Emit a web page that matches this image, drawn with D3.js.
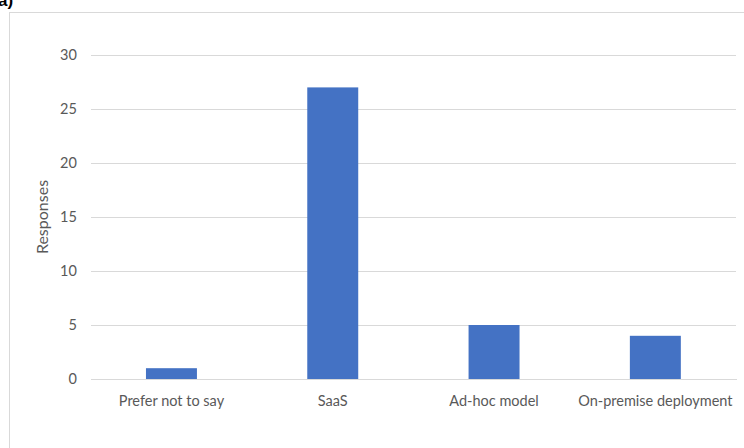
<!DOCTYPE html>
<html>
<head>
<meta charset="utf-8">
<script src="https://cdn.jsdelivr.net/npm/d3@7"></script>
<style>
  html, body { margin: 0; padding: 0; background: #fff; }
  svg { display: block; font-family: Lato, "Open Sans", sans-serif; }
</style>
</head>
<body>
<svg id="chart" width="744" height="448"></svg>
<script>
// Survey responses by delivery model
const categories = ["Prefer not to say", "SaaS", "Ad-hoc model", "On-premise deployment"];
const responses = [1, 27, 5, 4];
const yTicks = [0, 5, 10, 15, 20, 25, 30];
const yTitle = "Responses";
const panelLabel = "a)";

const W = 744, H = 448;
const margin = { left: 90.8, right: 8, top: 55, bottom: 69 };
const labelSize = 14.5;
const svg = d3.select("#chart");

// chart frame
svg.append("rect")
  .attr("x", 9.5).attr("y", 12.5)
  .attr("width", W + 10).attr("height", H + 10)
  .attr("fill", "#fff").attr("stroke", "#d9d9d9");

// panel label, running off the top edge
svg.append("text")
  .attr("x", -2).attr("y", 6)
  .attr("font-family", "Liberation Sans, Arial, sans-serif")
  .attr("font-weight", "bold").attr("font-size", 17)
  .attr("fill", "#000")
  .text(panelLabel);

const x = d3.scaleBand()
  .domain(categories)
  .range([margin.left, W - margin.right])
  .paddingInner(0.684)
  .paddingOuter(0.342);

const y = d3.scaleLinear()
  .domain([0, 30])
  .range([H - margin.bottom, margin.top]);

// gridlines + tick labels
const yAxis = d3.axisLeft(y)
  .tickValues(yTicks)
  .tickSize(-(W - margin.right - margin.left))
  .tickPadding(14);

const gy = svg.append("g")
  .attr("transform", `translate(${margin.left},0)`)
  .call(yAxis);
gy.select(".domain").remove();
gy.selectAll(".tick line").attr("stroke", "#d9d9d9").attr("shape-rendering", "crispEdges");
gy.selectAll(".tick text")
  .attr("fill", "#595959")
  .attr("font-size", labelSize)
  .attr("font-family", "Lato, sans-serif");

// bars
svg.append("g").selectAll("rect")
  .data(categories.map((c, i) => ({ c, v: responses[i] })))
  .join("rect")
  .attr("x", d => x(d.c))
  .attr("width", x.bandwidth())
  .attr("y", d => y(d.v))
  .attr("height", d => y(0) - y(d.v))
  .attr("fill", "#4472c4");

// category axis
const xAxis = d3.axisBottom(x).tickSize(0).tickPadding(17);
const gx = svg.append("g")
  .attr("transform", `translate(0,${y(0)})`)
  .call(xAxis);
gx.select(".domain").attr("stroke", "#d9d9d9").attr("shape-rendering", "crispEdges");
gx.selectAll(".tick text")
  .attr("fill", "#595959")
  .attr("font-size", labelSize)
  .attr("font-family", "Lato, sans-serif");

// axis title
svg.append("text")
  .attr("transform", `translate(48,${(y(0) + y(30)) / 2}) rotate(-90)`)
  .attr("text-anchor", "middle")
  .attr("fill", "#595959")
  .attr("font-size", 16)
  .attr("font-family", "Lato, sans-serif")
  .text(yTitle);
</script>
</body>
</html>
